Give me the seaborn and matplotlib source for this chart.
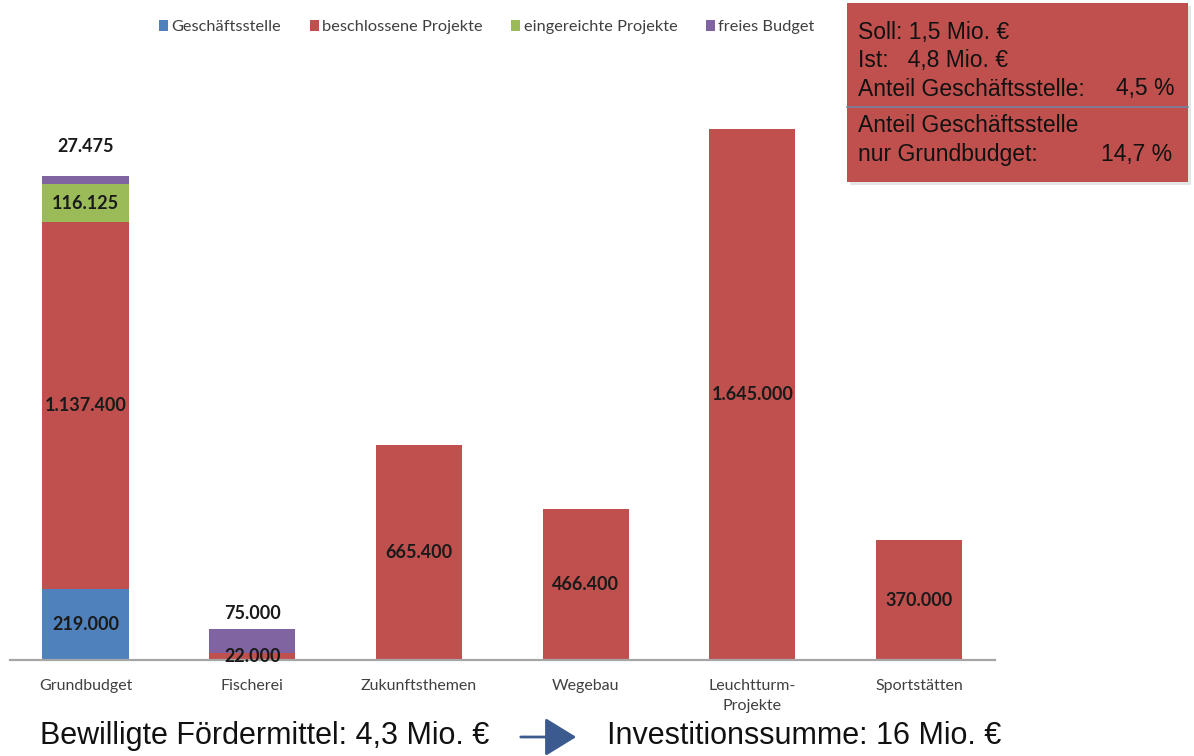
import matplotlib
matplotlib.use("Agg")
import matplotlib.pyplot as plt
import seaborn as sns
import pandas as pd
import numpy as np
from matplotlib.patches import Rectangle, Patch, FancyArrowPatch
from matplotlib.lines import Line2D

# ---------------- data ----------------
categories = ["Grundbudget", "Fischerei", "Zukunftsthemen", "Wegebau",
              "Leuchtturm-\nProjekte", "Sportstätten"]
geschaeftsstelle = [219000, 0, 0, 0, 0, 0]
beschlossen = [1137400, 22000, 665400, 466400, 1645000, 370000]
eingereicht = [116125, 0, 0, 0, 0, 0]
frei = [27475, 75000, 0, 0, 0, 0]
series_names = ["Geschäftsstelle", "beschlossene Projekte",
                "eingereichte Projekte", "freies Budget"]
colors = ["#4F81BD", "#C0504D", "#9BBB59", "#8064A2"]

box_lines_left = ["Soll: 1,5 Mio. €", "Ist:   4,8 Mio. €", "Anteil Geschäftsstelle:",
                  "Anteil Geschäftsstelle", "nur Grundbudget:"]
box_values = ["4,5 %", "14,7 %"]
bottom_left = "Bewilligte Fördermittel: 4,3 Mio. €"
bottom_right = "Investitionssumme: 16 Mio. €"

# ---------------- figure ----------------
sns.set_theme(style="white")
plt.rcParams['font.family'] = ['Liberation Sans', 'DejaVu Sans']

W, H = 1194, 756
fig = plt.figure(figsize=(W / 100, H / 100), dpi=100)
fig.patch.set_facecolor("white")

def fx(px):
    return px / W

def fy(py):
    return 1 - py / H

ymax = 1.8e6
px_per_unit = 3.23e-4
ax_h = ymax * px_per_unit
ax = fig.add_axes([fx(10), fy(660), fx(995) - fx(10), ax_h / H])

series = [geschaeftsstelle, beschlossen, eingereicht, frei]
cum = np.cumsum(np.array(series), axis=0)
df = pd.DataFrame({"cat": categories})
bar_w = 0.516
# draw from top layer down so lower layers cover upper cumulative bars
for k in range(3, -1, -1):
    df["val"] = cum[k]
    sns.barplot(data=df, x="cat", y="val", order=categories, color=colors[k],
                saturation=1, width=bar_w, ax=ax, errorbar=None, linewidth=0)

ax.set_xlim(-0.4529, 5.4559)
ax.set_ylim(0, ymax)
ax.set_xlabel("")
ax.set_ylabel("")
ax.set_yticks([])
for s in ["top", "right", "left"]:
    ax.spines[s].set_visible(False)
ax.spines["bottom"].set_color("#A6A6A6")
ax.spines["bottom"].set_linewidth(1.6)
ax.tick_params(axis="x", length=0, pad=14, labelsize=11.5, labelcolor="#404040")
for t in ax.get_xticklabels():
    t.set_family(['Lato', 'DejaVu Sans'])
    t.set_linespacing(1.55)

def fmt(v):
    return f"{v:,}".replace(",", ".")

label_font = dict(family=['Lato', 'DejaVu Sans'], weight="bold", fontsize=13, color="#1A1A1A")
above_offsets = {0: 21, 1: 11}  # points above bar top for "freies Budget"
for i in range(len(categories)):
    base = 0
    for k in range(4):
        v = series[k][i]
        if v > 0:
            if k == 3:
                ax.annotate(fmt(v), (i, base + v), xytext=(0, above_offsets.get(i, 11)),
                            textcoords="offset points", ha="center", va="center", **label_font)
            else:
                ax.text(i, base + v / 2, fmt(v), ha="center", va="center", **label_font)
        base += v

# legend
handles = [Patch(facecolor=c, edgecolor="none") for c in colors]
leg = fig.legend(handles, series_names, loc="center",
                 bbox_to_anchor=(fx(487), fy(27)), ncol=4, frameon=False,
                 handlelength=0.55, handleheight=0.65, handletextpad=0.2,
                 columnspacing=1.75, fontsize=11.8)
for t in leg.get_texts():
    t.set_color("#404040")
    t.set_family(['Lato', 'DejaVu Sans'])

# red info box
shadow = Rectangle((fx(850), fy(185)), fx(1191) - fx(850), fy(6) - fy(185),
                   transform=fig.transFigure, facecolor="#CCCCCC", edgecolor="none",
                   alpha=0.5, zorder=1)
box = Rectangle((fx(847), fy(182)), fx(1188) - fx(847), fy(3) - fy(182),
                transform=fig.transFigure, facecolor="#C0504D", edgecolor="none", zorder=2)
fig.add_artist(shadow)
fig.add_artist(box)
fig.add_artist(Line2D([fx(847), fx(1188)], [fy(107), fy(107)], transform=fig.transFigure,
                      color="#7A7F9A", lw=1.3, zorder=3))
box_font = dict(fontsize=16.5, color="#111111", family=['Liberation Sans', 'DejaVu Sans'], zorder=4)
for txt, py in zip(box_lines_left, [33, 61, 89, 126, 154]):
    fig.text(fx(858), fy(py), txt, ha="left", va="center", **box_font)
fig.text(fx(1175), fy(89), box_values[0], ha="right", va="center", **box_font)
fig.text(fx(1172), fy(154), box_values[1], ha="right", va="center", **box_font)

# bottom line
bottom_font = dict(fontsize=22, color="#111111", family=['Liberation Sans', 'DejaVu Sans'])
fig.text(fx(40), fy(736), bottom_left, ha="left", va="center", **bottom_font)
fig.text(fx(607), fy(736), bottom_right, ha="left", va="center", **bottom_font)
arrow = FancyArrowPatch((fx(518), fy(737)), (fx(579), fy(737)), transform=fig.transFigure,
                        arrowstyle="-|>,head_length=0.65,head_width=0.4", mutation_scale=30,
                        color="#3B5B8E", lw=2.0)
fig.add_artist(arrow)

fig.savefig("out.png", dpi=100)
